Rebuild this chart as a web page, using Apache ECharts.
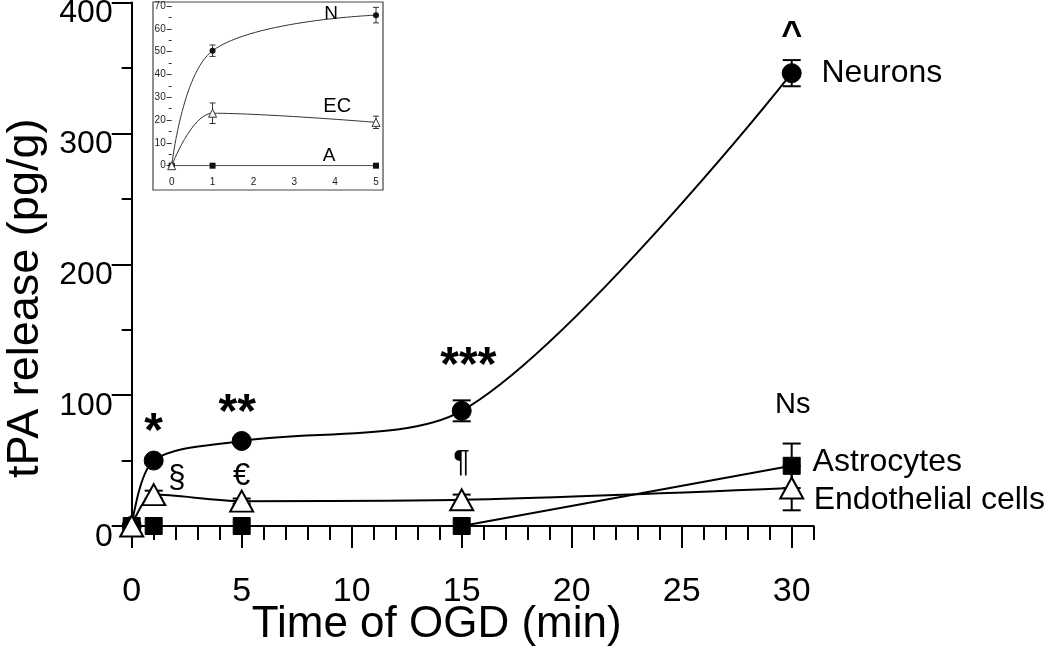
<!DOCTYPE html>
<html>
<head>
<meta charset="utf-8">
<script src="https://cdn.jsdelivr.net/npm/echarts@6/dist/echarts.min.js"></script>
<style>
html,body{margin:0;padding:0;background:#fff;}
#chart{width:1050px;height:668px;}
</style>
</head>
<body>
<div id="chart"></div>
<script>
// ---- main chart data ----
const timePoints = [0, 1, 5, 15, 30];
const neurons = [0, 50, 65, 88, 346];
const neuronsErr = [0, 2, 2, 8, 10];
const endothelial = [0, 24, 19, 20, 29];
const endothelialErr = [0, 3, 2, 4, 17];
const astrocytes = [0, 0, 0, 0, 46];
const astrocytesErr = [0, 0, 0, 0, 17];

// annotations (text, x, y in data units)
const annoText = ['*', '**', '***', '^', 'Ns', '§', '€', '¶'];
const annoX = [1, 4.8, 15.3, 30, 30.05, 2.05, 5, 15];
const annoY = [71, 86, 122, 374.5, 92.5, 36, 38, 47.5];
const annoSize = [48, 48, 48, 36, 29, 31, 31, 31];
const annoBold = [true, true, true, true, false, false, false, false];

const seriesNames = ['Neurons', 'Astrocytes', 'Endothelial cells'];
const seriesLabelX = [31.35, 30.95, 31.0];
const seriesLabelY = [346, 48.5, 20];

// ---- inset data ----
const insetTime = [0, 1, 5];
const insetN = [0, 50.4, 66];
const insetNErr = [0, 2.5, 3.4];
const insetEC = [0, 23, 19];
const insetECErr = [0, 4.5, 2.7];
const insetA = [0, 0, 0];
const insetLabels = ['N', 'EC', 'A'];
const insetLabelX = [3.9, 4.05, 3.85];
const insetLabelY = [66.5, 26, 4.5];
const insetLabelSize = [19, 20, 19];

const FONT = 'Liberation Sans, Arial, Helvetica, sans-serif';

function pairs(xs, ys) { return xs.map((x, i) => [x, ys[i]]); }
function errData(xs, ys, es) {
  const out = [];
  xs.forEach((x, i) => { if (es[i] > 0) out.push([x, ys[i] - es[i], ys[i] + es[i]]); });
  return out;
}
function errRender(capHalf, lw, color) {
  return function (params, api) {
    const x = api.value(0), lo = api.value(1), hi = api.value(2);
    const t = api.coord([x, hi]), b = api.coord([x, lo]);
    const st = { stroke: color, lineWidth: lw };
    return {
      type: 'group',
      children: [
        { type: 'line', shape: { x1: t[0], y1: t[1], x2: b[0], y2: b[1] }, style: st },
        { type: 'line', shape: { x1: t[0] - capHalf, y1: t[1], x2: t[0] + capHalf, y2: t[1] }, style: st },
        { type: 'line', shape: { x1: b[0] - capHalf, y1: b[1], x2: b[0] + capHalf, y2: b[1] }, style: st }
      ]
    };
  };
}
function textScatter(xIdx, yIdx, xs, ys, texts, styleFn) {
  return {
    type: 'scatter', xAxisIndex: xIdx, yAxisIndex: yIdx, symbol: 'circle', symbolSize: 1,
    itemStyle: { color: 'rgba(0,0,0,0)', opacity: 1 }, clip: false, silent: true, z: 6,
    data: texts.map((t, i) => ({
      value: [xs[i], ys[i]],
      label: Object.assign({ show: true, position: 'inside', formatter: t, color: '#000', opacity: 1, fontFamily: FONT, verticalAlign: 'middle' }, styleFn(i))
    }))
  };
}

const chart = echarts.init(document.getElementById('chart'), null, { renderer: 'canvas' });

const option = {
  backgroundColor: '#fff',
  animation: false,
  textStyle: { fontFamily: FONT },
  grid: [
    { left: 131.7, right: 236.3, top: 2.5, bottom: 142, outerBoundsMode: 'none', containLabel: false },
    { left: 131.7, right: 258.3, top: 2.5, bottom: 142, outerBoundsMode: 'none', containLabel: false },
    { left: 171.7, width: 204.3, top: 6, height: 159.7, outerBoundsMode: 'none', containLabel: false }
  ],
  xAxis: [
    {
      gridIndex: 0, type: 'value', min: 0, max: 31, interval: 1,
      axisLine: { lineStyle: { color: '#000', width: 2 } },
      axisTick: { length: 14, lineStyle: { color: '#000', width: 2 } },
      axisLabel: { show: false },
      splitLine: { show: false },
      name: 'Time of OGD (min)', nameLocation: 'middle', nameGap: 77,
      nameTextStyle: { fontSize: 44, color: '#000', fontFamily: FONT, padding: [0, 72, 0, 0] }
    },
    {
      gridIndex: 1, type: 'value', min: 0, max: 30, interval: 5,
      axisLine: { show: false },
      axisTick: { length: 22, lineStyle: { color: '#000', width: 2 } },
      axisLabel: { fontSize: 34, color: '#000', margin: 49, fontFamily: FONT },
      splitLine: { show: false }
    },
    {
      gridIndex: 2, type: 'value', min: 0, max: 5, interval: 1,
      axisLine: { show: false },
      axisTick: { show: false },
      axisLabel: { fontSize: 10, color: '#222', margin: 12, fontFamily: FONT },
      splitLine: { show: false }
    }
  ],
  yAxis: [
    {
      gridIndex: 0, type: 'value', min: 0, max: 400, interval: 100,
      axisLine: { show: true, lineStyle: { color: '#000', width: 2 } },
      axisTick: { show: true, length: 20, lineStyle: { color: '#000', width: 2 } },
      minorTick: { show: true, splitNumber: 2, length: 10, lineStyle: { color: '#000', width: 2 } },
      axisLabel: { fontSize: 32, color: '#000', margin: 19, fontFamily: FONT, verticalAlign: 'top', lineHeight: 22 },
      splitLine: { show: false },
      name: 'tPA release (pg/g)', nameLocation: 'middle', nameRotate: 90, nameGap: 82,
      nameTextStyle: { fontSize: 45, color: '#000', fontFamily: FONT, padding: [0, 68, 0, 0] }
    },
    {
      gridIndex: 1, type: 'value', min: 0, max: 400, show: false
    },
    {
      gridIndex: 2, type: 'value', min: 0, max: 70, interval: 10,
      axisLine: { show: false },
      axisTick: { show: true, length: 5, lineStyle: { color: '#333', width: 1 } },
      minorTick: { show: true, splitNumber: 2, length: 3, lineStyle: { color: '#333', width: 1 } },
      axisLabel: { fontSize: 10, color: '#222', margin: 6, fontFamily: FONT },
      splitLine: { show: false }
    }
  ],
  graphic: [
    {
      type: 'rect', shape: { x: 153, y: 2, width: 230, height: 188 },
      style: { fill: 'none', stroke: '#444', lineWidth: 1.2 }, z: 1
    }
  ],
  series: [
    // error bars main
    { type: 'custom', xAxisIndex: 0, yAxisIndex: 0, renderItem: errRender(9, 2, '#000'), data: errData(timePoints, neurons, neuronsErr), z: 2 },
    { type: 'custom', xAxisIndex: 0, yAxisIndex: 0, renderItem: errRender(9, 2, '#000'), data: errData(timePoints, endothelial, endothelialErr), z: 2 },
    { type: 'custom', xAxisIndex: 0, yAxisIndex: 0, renderItem: errRender(9, 2, '#000'), data: errData(timePoints, astrocytes, astrocytesErr), z: 2 },
    {
      name: 'Neurons', type: 'line', xAxisIndex: 0, yAxisIndex: 0,
      data: pairs(timePoints, neurons), smooth: 0.3,
      symbol: 'circle', symbolSize: 19, showAllSymbol: true,
      lineStyle: { color: '#000', width: 2 },
      itemStyle: { color: '#000', borderColor: '#000' }, z: 3
    },
    {
      name: 'Astrocytes', type: 'line', xAxisIndex: 0, yAxisIndex: 0,
      data: pairs(timePoints, astrocytes), smooth: false,
      symbol: 'rect', symbolSize: 17, showAllSymbol: true,
      lineStyle: { color: '#000', width: 2 },
      itemStyle: { color: '#000', borderColor: '#000' }, z: 4
    },
    {
      name: 'Endothelial cells', type: 'line', xAxisIndex: 0, yAxisIndex: 0,
      data: pairs(timePoints, endothelial), smooth: 0.3,
      symbol: 'triangle', symbolSize: [23, 21], showAllSymbol: true,
      lineStyle: { color: '#000', width: 2 },
      itemStyle: { color: '#fff', borderColor: '#000', borderWidth: 2 }, z: 5
    },
    // annotations
    textScatter(0, 0, annoX, annoY, annoText, i => ({ fontSize: annoSize[i], fontWeight: annoBold[i] ? 'bold' : 'normal', align: 'center' })),
    textScatter(0, 0, seriesLabelX, seriesLabelY, seriesNames, i => ({ fontSize: 32, align: 'left' })),
    // inset
    { type: 'custom', xAxisIndex: 2, yAxisIndex: 2, renderItem: errRender(3, 1, '#333'), data: errData(insetTime, insetN, insetNErr), z: 2 },
    { type: 'custom', xAxisIndex: 2, yAxisIndex: 2, renderItem: errRender(3, 1, '#333'), data: errData(insetTime, insetEC, insetECErr), z: 2 },
    {
      type: 'line', xAxisIndex: 2, yAxisIndex: 2, data: pairs(insetTime, insetN), smooth: 0.35,
      symbol: 'circle', symbolSize: 6, showAllSymbol: true,
      lineStyle: { color: '#333', width: 1 }, itemStyle: { color: '#111' }, z: 3
    },
    {
      type: 'line', xAxisIndex: 2, yAxisIndex: 2, data: pairs(insetTime, insetA),
      symbol: 'rect', symbolSize: 6, showAllSymbol: true,
      lineStyle: { color: '#333', width: 1 }, itemStyle: { color: '#111' }, z: 3
    },
    {
      type: 'line', xAxisIndex: 2, yAxisIndex: 2, data: pairs(insetTime, insetEC), smooth: 0.35,
      symbol: 'triangle', symbolSize: [8, 8], showAllSymbol: true,
      lineStyle: { color: '#333', width: 1 }, itemStyle: { color: '#fff', borderColor: '#333', borderWidth: 1 }, z: 4
    },
    textScatter(2, 2, insetLabelX, insetLabelY, insetLabels, i => ({ fontSize: insetLabelSize[i], align: 'center' }))
  ]
};
chart.setOption(option);
</script>
</body>
</html>
